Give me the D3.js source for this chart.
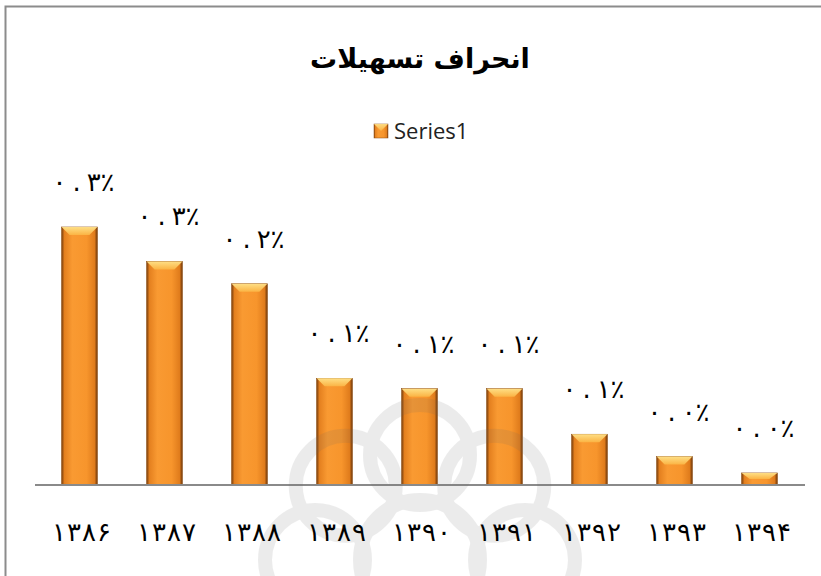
<!DOCTYPE html>
<html>
<head>
<meta charset="utf-8">
<script src="https://cdn.jsdelivr.net/npm/d3@7"></script>
<style>
  body { margin: 0; background: #fff; }
  svg { display: block; }
</style>
</head>
<body>
<svg id="chart" width="821" height="576"></svg>
<script>
// data
var years = ["۱۳۸۶", "۱۳۸۷", "۱۳۸۸", "۱۳۸۹", "۱۳۹۰", "۱۳۹۱", "۱۳۹۲", "۱۳۹۳", "۱۳۹۴"]
var values = [0.300, 0.260, 0.234, 0.124, 0.112, 0.112, 0.059, 0.033, 0.014]
var seriesName = "Series1"
var title = "انحراف تسهیلات"

const chart = {
    width: 821,
    height: 576,
    left: 37,
    right: 802,
    base: 485,
    top: 227
}

var svg = d3.select("#chart")

// persian digits for the value labels
function toFa(s){
    return s.replace(/[0-9]/g, function(c){ return String.fromCharCode(0x06F0 + (+c)) })
}

// letter-spacing is ignored on arabic runs, so space the glyphs by hand
function spaced(sel, str, gaps){
    sel.selectAll("tspan")
        .data(Array.from(str))
        .join("tspan")
            .attr("dx", (c, i) => i === 0 ? 0 : (Array.isArray(gaps) ? gaps[i] : gaps))
            .text(c => c)
}

var defs = svg.append("defs")
var grad = defs.append("linearGradient").attr("id", "barGrad")
    .attr("x1", "0").attr("x2", "1").attr("y1", "0").attr("y2", "0")
grad.append("stop").attr("offset", "0%").attr("stop-color", "#7a3e0c")
grad.append("stop").attr("offset", "8%").attr("stop-color", "#e4801f")
grad.append("stop").attr("offset", "30%").attr("stop-color", "#f99a32")
grad.append("stop").attr("offset", "70%").attr("stop-color", "#f7952c")
grad.append("stop").attr("offset", "92%").attr("stop-color", "#e07c1c")
grad.append("stop").attr("offset", "100%").attr("stop-color", "#6e370a")

var bevel = defs.append("linearGradient").attr("id", "bevelGrad")
    .attr("x1", "0").attr("x2", "0").attr("y1", "0").attr("y2", "1")
bevel.append("stop").attr("offset", "0%").attr("stop-color", "#ffe38a")
bevel.append("stop").attr("offset", "100%").attr("stop-color", "#fbb545")

// chart border (only top & left show in the crop)
svg.append("rect")
    .attr("x", 5.5).attr("y", 6.5)
    .attr("width", 830).attr("height", 600)
    .attr("fill", "none")
    .attr("stroke", "#8c8c8c")
    .attr("stroke-width", 2)

var xScale = d3.scaleBand().domain(years).range([chart.left, chart.right])
    .paddingInner(0.58).paddingOuter(0.29)
var yScale = d3.scaleLinear().domain([0, 0.3]).range([chart.base, chart.top])

// title
svg.append("text")
    .attr("x", 420).attr("y", 68)
    .attr("text-anchor", "middle")
    .attr("font-family", "DejaVu Sans")
    .attr("font-weight", "bold")
    .attr("font-size", 27)
    .text(title)

// legend
svg.append("rect")
    .attr("x", 374).attr("y", 124).attr("width", 14).attr("height", 14)
    .attr("fill", "url(#barGrad)").attr("stroke", "#8a4a10").attr("stroke-width", 0.5)
svg.append("polygon")
    .attr("points", "374,124 388,124 381,131")
    .attr("fill", "url(#bevelGrad)").attr("opacity", 0.9)
svg.append("text")
    .attr("x", 394).attr("y", 139)
    .attr("font-family", "Open Sans")
    .attr("font-size", 22)
    .attr("fill", "#222")
    .text(seriesName)

var data = years.map((y, i) => ({year: y, value: values[i]}))

// bars
var bars = svg.append("g").attr("class", "bars")
bars.selectAll("rect")
    .data(data)
    .join("rect")
        .attr("x", d => xScale(d.year))
        .attr("y", d => yScale(d.value))
        .attr("width", xScale.bandwidth())
        .attr("height", d => chart.base - yScale(d.value))
        .attr("fill", "url(#barGrad)")
        .attr("stroke", "#8a4a10")
        .attr("stroke-width", 0.6)

// top bevel of each bar
bars.selectAll("polygon")
    .data(data)
    .join("polygon")
        .attr("points", function(d){
            var x0 = xScale(d.year), x1 = x0 + xScale.bandwidth()
            var y0 = yScale(d.value)
            var h = Math.min(8, (chart.base - y0) / 2)
            return [[x0, y0], [x1, y0], [x1 - 8, y0 + h], [x0 + 8, y0 + h]].map(p => p.join(",")).join(" ")
        })
        .attr("fill", "url(#bevelGrad)")
        .attr("opacity", 0.95)

// axis line
svg.append("line")
    .attr("x1", 35).attr("x2", 805)
    .attr("y1", chart.base).attr("y2", chart.base)
    .attr("stroke", "#8a8a8a")
    .attr("stroke-width", 2)

// faint watermark ornament
var wm = svg.append("g").attr("opacity", 0.12)
    .attr("transform", "translate(420,560)")
    .attr("fill", "none").attr("stroke", "#666").attr("stroke-width", 14)
d3.range(8).forEach(function(i){
    var a = i * Math.PI / 4
    wm.append("circle")
        .attr("cx", Math.sin(a) * 105).attr("cy", -Math.cos(a) * 105)
        .attr("r", 50)
})
wm.append("circle").attr("r", 60)

// value labels
svg.append("g").selectAll("text")
    .data(data)
    .join("text")
        .attr("x", d => xScale(d.year) + xScale.bandwidth() / 2 + 4)
        .attr("y", d => yScale(d.value) - 36)
        .attr("text-anchor", "middle")
        .attr("direction", "ltr")
        .attr("font-family", "DejaVu Sans")
        .attr("font-size", 26)
        .each(function(d){ spaced(d3.select(this), toFa(d3.format(".1f")(d.value)) + "٪", [0, 6, 6, 0]) })

// category labels
svg.append("g").selectAll("text")
    .data(years)
    .join("text")
        .attr("x", d => xScale(d) + xScale.bandwidth() / 2 + 2)
        .attr("y", 541)
        .attr("text-anchor", "middle")
        .attr("direction", "ltr")
        .attr("font-family", "DejaVu Sans")
        .attr("font-size", 26)
        .each(function(d){ spaced(d3.select(this), d, 1) })
</script>
</body>
</html>
